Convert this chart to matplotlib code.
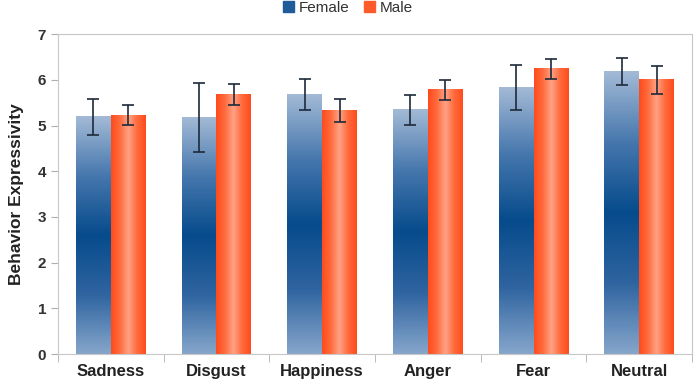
import matplotlib.pyplot as plt
import numpy as np
from matplotlib.colors import LinearSegmentedColormap
from matplotlib.patches import Patch

plt.rcParams['font.family'] = ['Liberation Sans', 'DejaVu Sans']

emotions = ['Sadness', 'Disgust', 'Happiness', 'Anger', 'Fear', 'Neutral']
female = [5.19, 5.18, 5.68, 5.34, 5.84, 6.18]
female_err = [0.40, 0.75, 0.33, 0.33, 0.49, 0.30]
male = [5.23, 5.67, 5.33, 5.78, 6.24, 6.00]
male_err = [0.21, 0.23, 0.25, 0.22, 0.22, 0.30]

blue_cmap = LinearSegmentedColormap.from_list(
    'fb', ['#86a6cb', '#2f64a0', '#064b8c', '#4677ad', '#a3bad6'])
red_cmap = LinearSegmentedColormap.from_list(
    'mr', ['#ff4b1c', '#ff6a3c', '#ffa285', '#ff6a3c', '#ff4b1c'])

fig = plt.figure(figsize=(6.96, 3.84), dpi=100)
ax = fig.add_axes([0.0833, 0.078, 0.911, 0.833])

x = np.arange(len(emotions))
w = 0.33
bars_f = ax.bar(x - w / 2, female, w, color='none', zorder=2)
bars_m = ax.bar(x + w / 2, male, w, color='none', zorder=2)

# gradient fills
vgrad = np.linspace(0, 1, 256).reshape(-1, 1)
hgrad = np.linspace(0, 1, 256).reshape(1, -1)
for b in bars_f:
    x0, h = b.get_x(), b.get_height()
    ax.imshow(vgrad, cmap=blue_cmap, extent=(x0, x0 + b.get_width(), 0, h),
              origin='lower', aspect='auto', zorder=2)
for b in bars_m:
    x0, h = b.get_x(), b.get_height()
    ax.imshow(hgrad, cmap=red_cmap, extent=(x0, x0 + b.get_width(), 0, h),
              origin='lower', aspect='auto', zorder=2)

ax.errorbar(x - w / 2, female, yerr=female_err, fmt='none', ecolor='#1e2a3a',
            elinewidth=1.2, capsize=4, capthick=1.2, zorder=3)
ax.errorbar(x + w / 2, male, yerr=male_err, fmt='none', ecolor='#1e2a3a',
            elinewidth=1.2, capsize=4, capthick=1.2, zorder=3)

ax.set_xlim(-0.5, len(emotions) - 0.5)
ax.set_ylim(0, 7)
ax.set_yticks(range(8))
ax.set_xticks(x)
ax.set_xticklabels(emotions, fontsize=12, fontweight='bold', color='#222222')
ax.set_xticks(np.arange(-0.5, len(emotions), 1), minor=True)
ax.tick_params(axis='x', which='major', length=0, pad=7)
ax.tick_params(axis='x', which='minor', length=6, color='#b0b0b0')
ax.tick_params(axis='y', length=5, color='#b0b0b0', labelsize=11,
               labelcolor='#333333')
for lab in ax.get_yticklabels():
    lab.set_fontweight('bold')
for s in ax.spines.values():
    s.set_color('#c8c8c8')
ax.axhline(7, color='#c8c8c8', lw=1.5, zorder=1)

ax.set_ylabel('Behavior Expressivity', fontsize=12.5, fontweight='bold',
              color='#222222', labelpad=10)

handles = [Patch(color='#1f5a99'), Patch(color='#ff5a2a')]
fig.legend(handles, ['Female', 'Male'], loc='center', ncol=2,
           bbox_to_anchor=(0.5, 1 - 8 / 384), frameon=False, fontsize=11,
           handlelength=0.7, handleheight=0.7, handletextpad=0.3,
           columnspacing=1.0, labelcolor='#333333')

fig.savefig('out.png', dpi=100)
